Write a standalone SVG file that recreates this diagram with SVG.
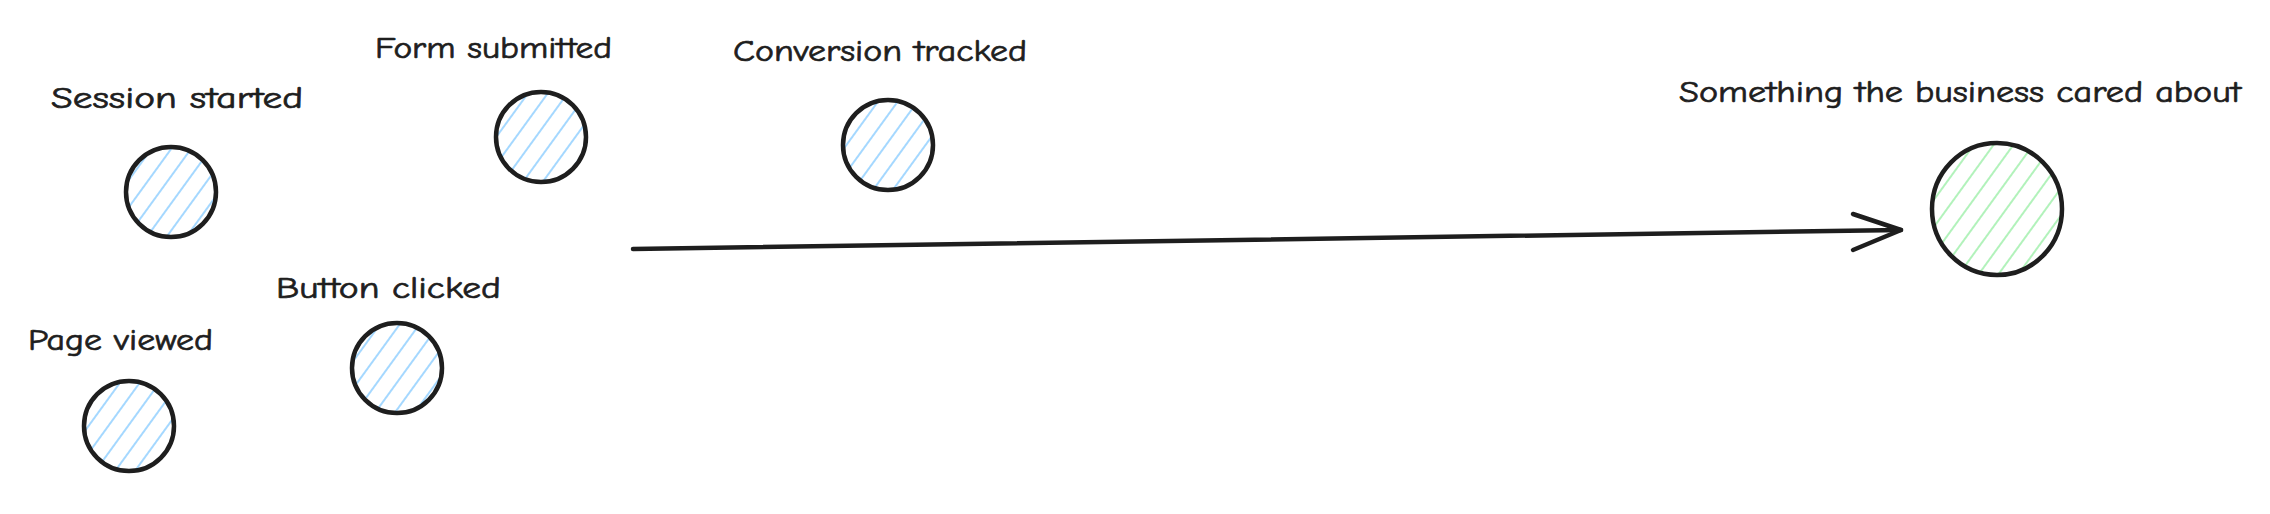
<svg xmlns="http://www.w3.org/2000/svg" width="2270" height="514" viewBox="0 0 2270 514">
  <style>
    .lbl { font-family: "Comic Neue", "Liberation Sans", sans-serif; font-size: 30px; fill: #1e1e1e; stroke: #1e1e1e; stroke-width: 0.7; }
    .node { stroke: #1e1e1e; stroke-width: 4.5; }
    .blue { fill: url(#hatchBlue); }
    .green { fill: url(#hatchGreen); }
    .conn { fill: none; stroke: #1e1e1e; stroke-width: 4.5; stroke-linecap: round; stroke-linejoin: round; }
  </style>
  <defs>
    <pattern id="hatchBlue" patternUnits="userSpaceOnUse" width="16" height="16" patternTransform="rotate(36)">
      <rect width="16" height="16" fill="#ffffff"/>
      <line x1="2" y1="0" x2="2" y2="16" stroke="#a5d8ff" stroke-width="2"/>
    </pattern>
    <pattern id="hatchGreen" patternUnits="userSpaceOnUse" width="16" height="16" patternTransform="rotate(36)">
      <rect width="16" height="16" fill="#ffffff"/>
      <line x1="2" y1="0" x2="2" y2="16" stroke="#b2f2bb" stroke-width="2"/>
    </pattern>
  </defs>
  <rect width="2270" height="514" fill="#ffffff"/>

  <g id="connectors">
    <path class="conn" d="M633,249 L1901,230"/>
    <path class="conn" d="M1853,214 L1901,230 L1853,250"/>
  </g>

  <g id="session-started">
    <text class="lbl" x="51" y="108" textLength="252" lengthAdjust="spacingAndGlyphs">Session started</text>
    <ellipse class="node blue" cx="171" cy="192" rx="45" ry="45"/>
  </g>

  <g id="form-submitted">
    <text class="lbl" x="375" y="58" textLength="237" lengthAdjust="spacingAndGlyphs">Form submitted</text>
    <ellipse class="node blue" cx="541" cy="137" rx="45" ry="45"/>
  </g>

  <g id="page-viewed">
    <text class="lbl" x="28" y="350" textLength="185" lengthAdjust="spacingAndGlyphs">Page viewed</text>
    <ellipse class="node blue" cx="129" cy="426" rx="45" ry="45"/>
  </g>

  <g id="button-clicked">
    <text class="lbl" x="276" y="298" textLength="225" lengthAdjust="spacingAndGlyphs">Button clicked</text>
    <ellipse class="node blue" cx="397" cy="368" rx="45" ry="45"/>
  </g>

  <g id="conversion-tracked">
    <text class="lbl" x="733" y="61" textLength="294" lengthAdjust="spacingAndGlyphs">Conversion tracked</text>
    <ellipse class="node blue" cx="888" cy="145" rx="45" ry="45"/>
  </g>

  <g id="business-outcome">
    <text class="lbl" x="1679" y="102" textLength="562" lengthAdjust="spacingAndGlyphs">Something the business cared about</text>
    <ellipse class="node green" cx="1997" cy="209" rx="65" ry="66"/>
  </g>
</svg>
